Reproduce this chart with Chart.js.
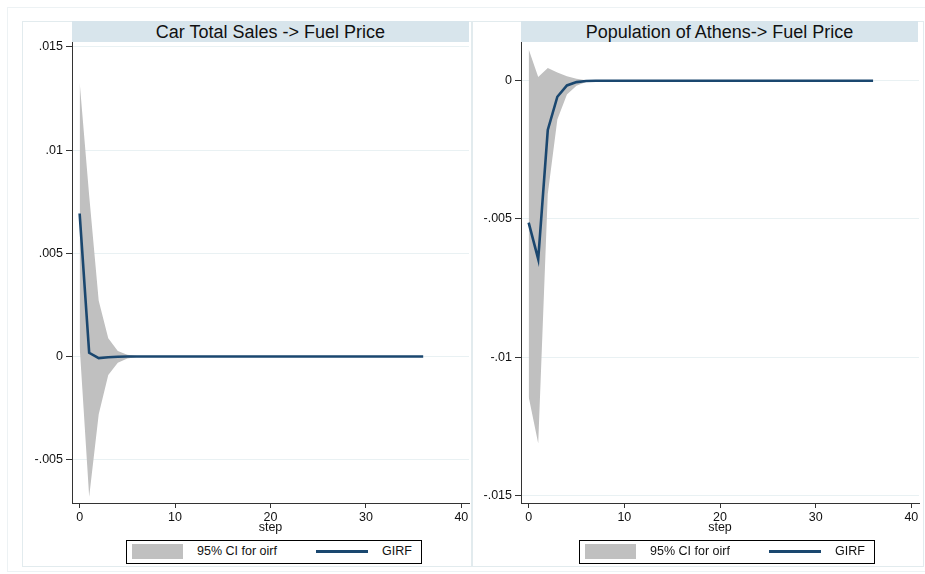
<!DOCTYPE html>
<html>
<head>
<meta charset="utf-8">
<script src="https://cdn.jsdelivr.net/npm/chart.js@4.4.1/dist/chart.umd.min.js"></script>
<style>
  html, body { margin: 0; padding: 0; background: #fff; }
  body { width: 925px; height: 574px; position: relative; overflow: hidden;
         font-family: "Liberation Sans", Arial, sans-serif; }
  .frame { position: absolute; border: 1px solid #edf2f4; }
  .panel { position: absolute; border: 1px solid #e2ebee; }
  .cv { position: absolute; }
  .tbar { position: absolute; background: #d8e5ec; height: 21px; line-height: 22px;
          text-align: center; font-size: 18px; color: #111; white-space: nowrap; }
  .legend { position: absolute; border: 1px solid #000; height: 22px; width: 294px; background: #fff; }
  .legend .sw { position: absolute; left: 5px; top: 3px; width: 51px; height: 15px; background: #c0c0c0; }
  .legend .t1 { position: absolute; left: 70px; top: 0; line-height: 21px; font-size: 12.5px; color: #111; white-space: nowrap; }
  .legend .ln { position: absolute; left: 189px; top: 9px; width: 52px; height: 3px; background: #1a476f; }
  .legend .t2 { position: absolute; left: 255px; top: 0; line-height: 21px; font-size: 12.5px; color: #111; }
</style>
</head>
<body>
<div class="frame" style="left:7px;top:7px;width:917px;height:563px;"></div>
<div class="panel" style="left:22px;top:21px;width:448px;height:544px;"></div>
<div class="panel" style="left:472px;top:21px;width:450px;height:544px;"></div>

<canvas id="c1" class="cv" width="450" height="520" style="left:22px;top:21px;width:450px;height:520px;"></canvas>
<canvas id="c2" class="cv" width="450" height="520" style="left:472px;top:21px;width:450px;height:520px;"></canvas>

<div class="tbar" id="t1" style="left:72px;top:21px;width:397px;"></div>
<div class="tbar" id="t2" style="left:521px;top:21px;width:397px;"></div>

<div class="legend" style="left:126px;top:540px;"><div class="sw"></div><div class="t1">95% CI for oirf</div><div class="ln"></div><div class="t2">GIRF</div></div>
<div class="legend" style="left:579px;top:540px;"><div class="sw"></div><div class="t1">95% CI for oirf</div><div class="ln"></div><div class="t2">GIRF</div></div>

<script>
// ---------------- DATA ----------------
const steps = [0,1,2,3,4,5,6,7,8,9,10,11,12,13,14,15,16,17,18,19,20,21,22,23,24,25,26,27,28,29,30,31,32,33,34,35,36];

const titleLeft = "Car Total Sales -> Fuel Price";
const titleRight = "Population of Athens-> Fuel Price";

// Left panel: Car Total Sales -> Fuel Price
const girfLeft  = [0.00693, 0.00018, -0.00008, -0.00004, -0.00001, 0, 0, 0, 0, 0, 0, 0, 0, 0, 0, 0, 0, 0, 0, 0, 0, 0, 0, 0, 0, 0, 0, 0, 0, 0, 0, 0, 0, 0, 0, 0, 0];
const upperLeft = [0.0133, 0.0078, 0.0027, 0.00088, 0.00026, 0.00008, 0.00002, 0, 0, 0, 0, 0, 0, 0, 0, 0, 0, 0, 0, 0, 0, 0, 0, 0, 0, 0, 0, 0, 0, 0, 0, 0, 0, 0, 0, 0, 0];
const lowerLeft = [0.0005, -0.0068, -0.0028, -0.0009, -0.0003, -0.0001, -0.00003, 0, 0, 0, 0, 0, 0, 0, 0, 0, 0, 0, 0, 0, 0, 0, 0, 0, 0, 0, 0, 0, 0, 0, 0, 0, 0, 0, 0, 0, 0];

// Right panel: Population of Athens -> Fuel Price
const girfRight  = [-0.00513, -0.00645, -0.00178, -0.00058, -0.00017, -0.00005, -0.00001, 0, 0, 0, 0, 0, 0, 0, 0, 0, 0, 0, 0, 0, 0, 0, 0, 0, 0, 0, 0, 0, 0, 0, 0, 0, 0, 0, 0, 0, 0];
const upperRight = [0.00114, 0.00013, 0.00046, 0.0003, 0.00016, 0.00007, 0.00002, 0.000005, 0, 0, 0, 0, 0, 0, 0, 0, 0, 0, 0, 0, 0, 0, 0, 0, 0, 0, 0, 0, 0, 0, 0, 0, 0, 0, 0, 0, 0];
const lowerRight = [-0.01143, -0.01312, -0.0041, -0.0014, -0.0005, -0.00018, -0.00005, -0.00001, 0, 0, 0, 0, 0, 0, 0, 0, 0, 0, 0, 0, 0, 0, 0, 0, 0, 0, 0, 0, 0, 0, 0, 0, 0, 0, 0, 0, 0];

// Tick values / labels
const xTicks = [0, 10, 20, 30, 40];
const yTicksLeft = [0.015, 0.01, 0.005, 0, -0.005];
const yLabelsLeft = [".015", ".01", ".005", "0", "-.005"];
const yTicksRight = [0, -0.005, -0.01, -0.015];
const yLabelsRight = ["0", "-.005", "-.01", "-.015"];
const xTitle = "step";

// ---------------- CHARTS ----------------
document.getElementById('t1').textContent = titleLeft;
document.getElementById('t2').textContent = titleRight;

const FONT = "'Liberation Sans', Arial, sans-serif";
const pts = arr => steps.map((s, i) => ({x: s, y: arr[i]}));

function makeChart(id, girf, up, lo, yTicks, yLabels, yMin, yMax, yAxisWidth) {
  return new Chart(document.getElementById(id), {
    type: 'line',
    data: {
      datasets: [
        { label: 'GIRF', data: pts(girf), borderColor: '#1a476f', borderWidth: 2.6,
          pointRadius: 0, fill: false, tension: 0, order: 0 },
        { label: '95% CI for oirf', data: pts(up), borderWidth: 0, borderColor: 'rgba(0,0,0,0)',
          backgroundColor: '#c0c0c0', pointRadius: 0, fill: '+1', tension: 0, order: 1 },
        { label: '95% CI lower', data: pts(lo), borderWidth: 0, borderColor: 'rgba(0,0,0,0)',
          pointRadius: 0, fill: false, tension: 0, order: 2 }
      ]
    },
    options: {
      responsive: false,
      animation: false,
      devicePixelRatio: 1,
      layout: { padding: { top: 21, right: 3, left: 0, bottom: 0 } },
      plugins: { legend: { display: false }, title: { display: false }, tooltip: { enabled: false } },
      scales: {
        x: {
          type: 'linear', min: -0.8, max: 40.8,
          afterBuildTicks: s => { s.ticks = xTicks.map(v => ({value: v})); },
          afterFit: s => { s.height = 38; },
          grid: { drawOnChartArea: false, drawTicks: true, tickLength: 5, tickColor: '#333', lineWidth: 1 },
          border: { display: true, color: '#333', width: 1 },
          ticks: { font: { family: FONT, size: 12.5 }, color: '#111', padding: 2, maxRotation: 0, autoSkip: false },
          title: { display: true, text: xTitle, font: { family: FONT, size: 12.5 }, color: '#111',
                   padding: { top: 0, bottom: 6 } }
        },
        y: {
          type: 'linear', min: yMin, max: yMax,
          afterBuildTicks: s => { s.ticks = yTicks.map(v => ({value: v})); },
          afterFit: s => { s.width = yAxisWidth; },
          grid: { drawOnChartArea: true, color: '#e9f1f3', lineWidth: 1, drawTicks: true,
                  tickLength: 6, tickColor: '#333' },
          border: { display: true, color: '#333', width: 1 },
          ticks: { font: { family: FONT, size: 12.5 }, color: '#111', padding: 3, autoSkip: false,
                   callback: (v, i) => yLabels[i] }
        }
      }
    }
  });
}

makeChart('c1', girfLeft, upperLeft, lowerLeft, yTicksLeft, yLabelsLeft, -0.0071, 0.01524, 50);
makeChart('c2', girfRight, upperRight, lowerRight, yTicksRight, yLabelsRight, -0.01527, 0.0014, 49);
</script>
</body>
</html>
